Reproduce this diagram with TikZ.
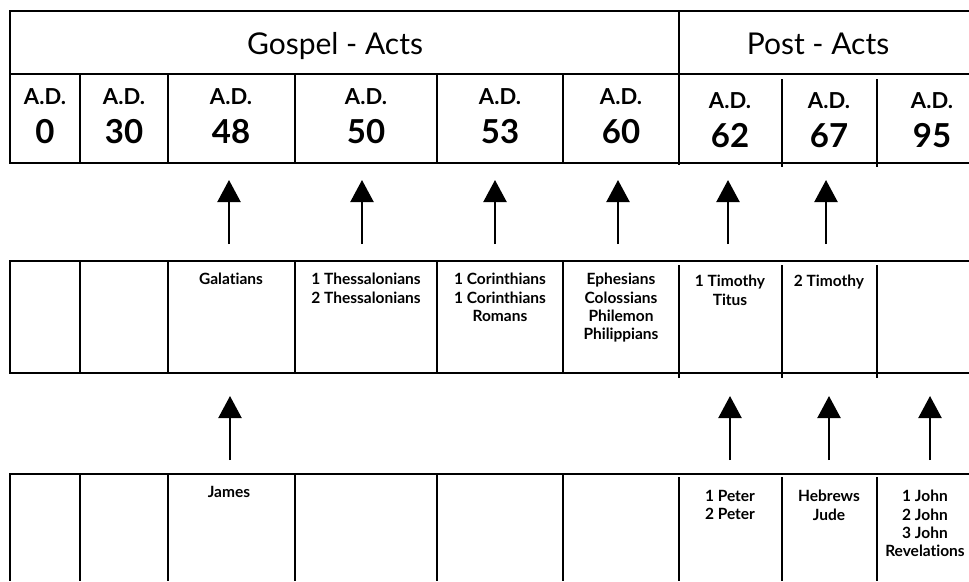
\documentclass[tikz,border=0pt]{standalone}
\usepackage{fontspec}
\setmainfont{Lato}[Ligatures=NoCommon]
\usetikzlibrary{arrows.meta, positioning}

\begin{document}
\begin{tikzpicture}[x=1pt,y=-1pt,line width=2.6pt,
      up arrow/.style={-{Triangle[width=23pt,length=22pt]},line width=2.2pt},
      era label/.style={anchor=base,font=\fontsize{30}{36}\selectfont},
      date label/.style={align=center,inner sep=0pt,font=\bfseries\fontsize{22}{26}\selectfont},
      book list/.style={align=center,anchor=north,inner sep=0pt,font=\bfseries\fontsize{15.5}{18.3}\selectfont}]

      \useasboundingbox (0,0) rectangle (969,581);

      % top table: eras and dates
      \draw (969,11) -- (10,11) -- (10,163) -- (969,163);
      \draw (10,74) -- (969,74);
      \draw (679,11) -- (679,165);
      \foreach \x in {80,168,295,437,563} {
          \draw (\x,74) -- (\x,163);}
      \foreach \x in {782,877} {
          \draw (\x,79) -- (\x,167);}

      \node[era label] (gospel) at (335,54) {Gospel - Acts};
      \node[era label] (post) at (818,54) {Post - Acts};

      \foreach \n/\x/\y/\d in {d0/45/116/0, d30/124/116/30, d48/231/116/48,
          d50/366/116/50, d53/500/116/53, d60/621/116/60,
          d62/730/120/62, d67/829/120/67, d95/932/120/95} {
          \node[date label] (\n) at (\x,\y) {A.D.\\[13pt]{\fontsize{33}{36}\selectfont \d}};}

      % middle row: letters
      \draw (969,261) -- (10,261) -- (10,373) -- (969,373);
      \foreach \x in {80,168,295,437,563} {
          \draw (\x,261) -- (\x,373);}
      \foreach \x in {679,782,877} {
          \draw (\x,265) -- (\x,378);}

      \node[book list] (gal) at (231,272) {Galatians};
      \node[book list] (thess) at (366,272) {1 Thessalonians\\2 Thessalonians};
      \node[book list] (cor) at (500,272) {1 Corinthians\\1 Corinthians\\Romans};
      \node[book list] (eph) at (621,272) {Ephesians\\Colossians\\Philemon\\Philippians};
      \node[book list] (tim) at (730,274) {1 Timothy\\Titus};
      \node[book list] (tim2) at (829,274) {2 Timothy};

      % bottom row: general letters
      \draw (969,474) -- (10,474) -- (10,581);
      \foreach \x in {80,168,295,437,563} {
          \draw (\x,474) -- (\x,581);}
      \foreach \x in {679,782,877} {
          \draw (\x,477) -- (\x,581);}

      \node[book list] (jas) at (229,485) {James};
      \node[book list] (pet) at (730,489) {1 Peter\\2 Peter};
      \node[book list] (heb) at (829,489) {Hebrews\\Jude};
      \node[book list] (john) at (925,489) {1 John\\2 John\\3 John\\Revelations};

      % arrows
      \foreach \n/\x in {a/229, b/362, c/495, d/618, e/728, f/826} {
          \coordinate (\n tail) at (\x,244);
          \coordinate (\n tip) at (\x,180);
          \draw[up arrow] (\n tail) -- (\n tip);}
      \foreach \n/\x in {g/230, h/730, i/829, j/930} {
          \coordinate (\n tail) at (\x,460);
          \coordinate (\n tip) at (\x,396);
          \draw[up arrow] (\n tail) -- (\n tip);}
\end{tikzpicture}
\end{document}
